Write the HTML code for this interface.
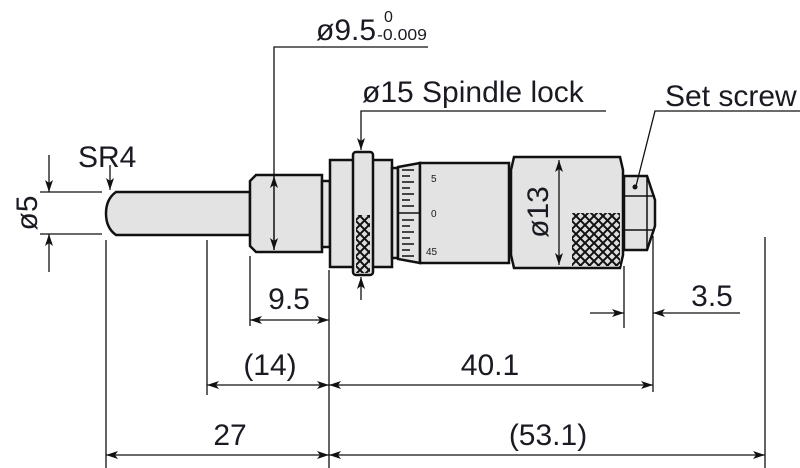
<!DOCTYPE html>
<html><head><meta charset="utf-8"><style>
html,body{margin:0;padding:0;background:#fff;}
svg{display:block;}
text{font-family:"Liberation Sans Narrow","Liberation Sans",sans-serif;fill:#1a1a22;}
</style></head><body>
<svg width="800" height="468" viewBox="0 0 800 468" xmlns="http://www.w3.org/2000/svg">
<defs>
<marker id="a" viewBox="0 0 12 8" refX="12" refY="4" markerWidth="12" markerHeight="8" orient="auto-start-reverse" markerUnits="userSpaceOnUse">
<path d="M0,0 L12,4 L0,8 L3,4 z" fill="#111"/></marker>
<pattern id="k" width="9" height="9" patternUnits="userSpaceOnUse">
<rect width="9" height="9" fill="#ddd"/>
<path d="M0,0 L9,9 M9,0 L0,9" stroke="#111" stroke-width="2"/></pattern>
</defs>
<g stroke="#111" stroke-width="2.5" fill="#e3e3e3">
<path d="M116,192 L250,192 L250,235 L116,235 Q106,228 106,213.5 Q106,199 116,192 z"/>
<path d="M256,175 L322,175 L322,252 L256,252 L250,246 L250,181 z"/>
<rect x="322" y="181" width="8" height="66"/>
<rect x="330" y="160" width="62" height="107"/>
<rect x="353" y="152" width="20" height="123" rx="3"/>
<rect x="392" y="168" width="6" height="90"/>
<path d="M398,167 L420,163 L420,263 L398,259 z"/>
<rect x="420" y="163" width="89" height="100"/>
<path d="M514,157 L620,157 L623,170 L623,255 L620,268 L514,268 L511,255 L511,170 z"/>
<path d="M624,176 L647,176 L655,200 L655,226 L647,250 L624,250 z"/>
</g>
<rect x="356" y="215" width="14" height="58" fill="url(#k)"/>
<rect x="572" y="213" width="48" height="53" fill="url(#k)"/>
<g stroke="#111" stroke-width="1.5">
<line x1="624" y1="196" x2="655" y2="196"/><line x1="624" y1="230" x2="655" y2="230"/>
<line x1="647" y1="176" x2="647" y2="250"/>
<line x1="398" y1="213" x2="420" y2="213"/>
<path d="M402,170h12M402,176h8M402,182h12M402,188h8M402,194h12M402,200h8M402,206h12M402,220h12M402,226h8M402,232h12M402,238h8M402,244h12M402,250h8M402,256h12"/>
</g>
<circle cx="635" cy="187" r="2.5" fill="#111"/>
<text x="431" y="182" font-size="10">5</text>
<text x="431" y="217" font-size="10">0</text>
<text x="426" y="255" font-size="10">45</text>
<g stroke="#111" stroke-width="1.3" fill="none">
<line x1="40" y1="192" x2="102" y2="192"/><line x1="40" y1="234" x2="102" y2="234"/>
<line x1="49" y1="155" x2="49" y2="192" marker-end="url(#a)"/>
<line x1="49" y1="272" x2="49" y2="234" marker-end="url(#a)"/>
<line x1="110" y1="165" x2="110" y2="190" marker-end="url(#a)"/>
<path d="M428,47 L274,47 L274,250"/>
<line x1="274" y1="213" x2="274" y2="176" marker-end="url(#a)"/>
<line x1="274" y1="213" x2="274" y2="250" marker-end="url(#a)"/>
<path d="M606,111 L361,111 L361,150" marker-end="url(#a)"/>
<line x1="361" y1="300" x2="361" y2="277" marker-end="url(#a)"/>
<path d="M800,111 L655,111 L636,186"/>
<line x1="559" y1="212" x2="559" y2="160" marker-end="url(#a)"/>
<line x1="559" y1="212" x2="559" y2="265" marker-end="url(#a)"/>
<line x1="624" y1="266" x2="624" y2="328"/><line x1="653" y1="236" x2="653" y2="392"/>
<line x1="590" y1="313" x2="624" y2="313" marker-end="url(#a)"/>
<line x1="740" y1="313" x2="653" y2="313" marker-end="url(#a)"/>
<line x1="250" y1="256" x2="250" y2="326"/><line x1="329" y1="270" x2="329" y2="468"/>
<line x1="289" y1="320" x2="250" y2="320" marker-end="url(#a)"/>
<line x1="289" y1="320" x2="329" y2="320" marker-end="url(#a)"/>
<line x1="207" y1="240" x2="207" y2="395"/>
<line x1="268" y1="385" x2="207" y2="385" marker-end="url(#a)"/>
<line x1="268" y1="385" x2="329" y2="385" marker-end="url(#a)"/>
<line x1="490" y1="385" x2="329" y2="385" marker-end="url(#a)"/>
<line x1="490" y1="385" x2="653" y2="385" marker-end="url(#a)"/>
<line x1="106" y1="240" x2="106" y2="468"/><line x1="765" y1="237" x2="765" y2="468"/>
<line x1="218" y1="455" x2="106" y2="455" marker-end="url(#a)"/>
<line x1="218" y1="455" x2="329" y2="455" marker-end="url(#a)"/>
<line x1="547" y1="455" x2="329" y2="455" marker-end="url(#a)"/>
<line x1="547" y1="455" x2="765" y2="455" marker-end="url(#a)"/>
</g>
<g font-size="30">
<text x="78" y="167">SR4</text>
<text transform="translate(37,213) rotate(-90)" text-anchor="middle">ø5</text>
<text x="316" y="40">ø9.5</text>
<text x="384" y="22" font-size="16">0</text>
<text x="377" y="40" font-size="16" textLength="50" lengthAdjust="spacingAndGlyphs">-0.009</text>
<text x="362" y="102">ø15 Spindle lock</text>
<text x="665" y="106">Set screw</text>
<text transform="translate(548,212) rotate(-90)" text-anchor="middle">ø13</text>
<text x="289" y="309" text-anchor="middle">9.5</text>
<text x="712" y="306" text-anchor="middle">3.5</text>
<text x="270" y="375" text-anchor="middle">(14)</text>
<text x="490" y="375" text-anchor="middle">40.1</text>
<text x="230" y="445" text-anchor="middle">27</text>
<text x="548" y="445" text-anchor="middle">(53.1)</text>
</g>
</svg>
</body></html>
